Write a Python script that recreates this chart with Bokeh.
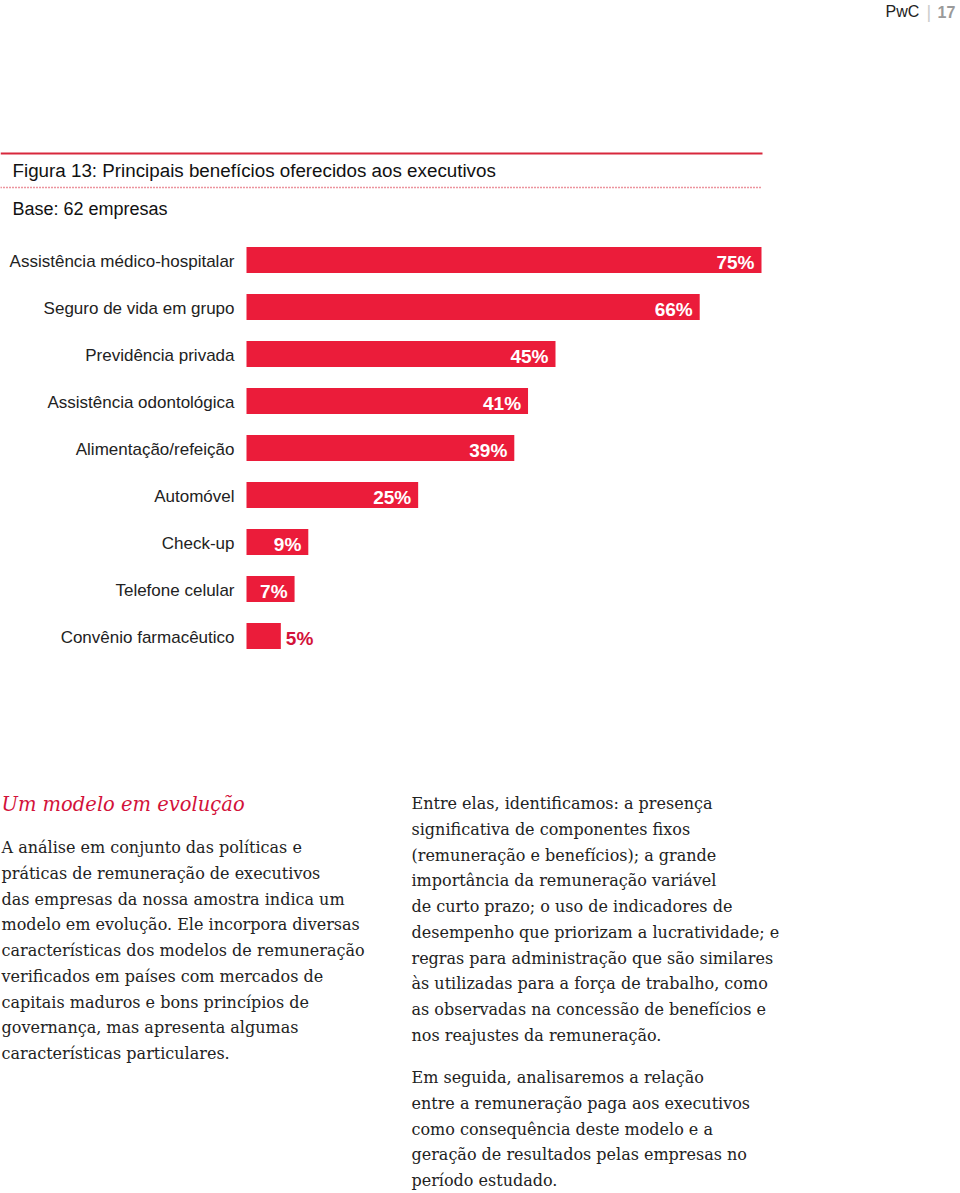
from bokeh.plotting import figure
from bokeh.models import Range1d, ColumnDataSource
from bokeh.core.properties import value
from bokeh.embed import file_html
from bokeh.resources import INLINE

# ---------------- data ----------------
categories = ["Assistência médico-hospitalar", "Seguro de vida em grupo", "Previdência privada",
              "Assistência odontológica", "Alimentação/refeição", "Automóvel", "Check-up",
              "Telefone celular", "Convênio farmacêutico"]
values = [75, 66, 45, 41, 39, 25, 9, 7, 5]
labels = [f"{v}%" for v in values]

title = "Figura 13: Principais benefícios oferecidos aos executivos"
subtitle = "Base: 62 empresas"
heading = "Um modelo em evolução"
left_lines = ["A análise em conjunto das políticas e",
              "práticas de remuneração de executivos",
              "das empresas da nossa amostra indica um",
              "modelo em evolução. Ele incorpora diversas",
              "características dos modelos de remuneração",
              "verificados em países com mercados de",
              "capitais maduros e bons princípios de",
              "governança, mas apresenta algumas",
              "características particulares."]
right_lines1 = ["Entre elas, identificamos: a presença",
                "significativa de componentes fixos",
                "(remuneração e benefícios); a grande",
                "importância da remuneração variável",
                "de curto prazo; o uso de indicadores de",
                "desempenho que priorizam a lucratividade; e",
                "regras para administração que são similares",
                "às utilizadas para a força de trabalho, como",
                "as observadas na concessão de benefícios e",
                "nos reajustes da remuneração."]
right_lines2 = ["Em seguida, analisaremos a relação",
                "entre a remuneração paga aos executivos",
                "como consequência deste modelo e a",
                "geração de resultados pelas empresas no",
                "período estudado."]

RED = "#eb1c3a"
DARKRED = "#d3123a"
SANS = "Liberation Sans"
SERIF = "DejaVu Serif"
W, H = 960, 1193

# value axis: 0 at pixel 246, 75 at pixel 761
LEFT = 246
PX_PER_UNIT = 515 / 75

p = figure(width=W, height=H,
           x_range=Range1d(-LEFT / PX_PER_UNIT, (W - LEFT) / PX_PER_UNIT),
           y_range=Range1d(H, 0),
           output_backend="svg", toolbar_location=None,
           x_axis_location=None, y_axis_location=None,
           min_border=0, outline_line_color=None)
p.extra_x_ranges = {"px": Range1d(0, W)}
p.grid.visible = False
p.background_fill_color = "white"
p.border_fill_color = "white"

def txt(x, y, t, font=SANS, size="16px", color="#222222", style="normal", align="left"):
    p.text(x=x, y=y, text=t, x_range_name="px", text_font=value(font), text_font_size=size,
           text_color=color, text_font_style=style, text_align=align, text_baseline="middle")

# ---------------- header / title ----------------
txt([885], [11], ["PwC"], size="16px", color="#222222")
txt([926], [11], ["|"], size="18px", color="#cccccc")
txt([937], [11], ["17"], size="16px", color="#9a9a9a", style="bold")
p.segment(x0=[0], y0=[153], x1=[762], y1=[153], x_range_name="px",
          line_color="#d8283c", line_width=2)
txt([12], [170], [title], size="18.8px", color="#111111")
p.segment(x0=[0], y0=[187], x1=[762], y1=[187], x_range_name="px",
          line_color="#d8283c", line_width=1.5, line_dash="1 2")
txt([12], [208], [subtitle], size="18px", color="#111111")

# ---------------- bar chart ----------------
ROW = 47
FIRST = 259.5
ys = [FIRST + i * ROW for i in range(len(categories))]
src = ColumnDataSource(dict(y=ys, val=values, lab=labels, cat=categories))
p.hbar(y="y", left=0, right="val", height=26, source=src, fill_color=RED, line_color=None)

# category labels (right-aligned, left of the bars)
txt([LEFT - 12] * len(categories), [y + 1 for y in ys], categories, size="17px",
    color="#222222", align="right")

inside = [i for i, v in enumerate(values) if v > 6]
outside = [i for i, v in enumerate(values) if v <= 6]
src_in = ColumnDataSource(dict(y=[ys[i] for i in inside], val=[values[i] for i in inside],
                               lab=[labels[i] for i in inside]))
src_out = ColumnDataSource(dict(y=[ys[i] for i in outside], val=[values[i] for i in outside],
                                lab=[labels[i] for i in outside]))
p.text(x="val", y="y", text="lab", source=src_in, text_align="right",
       text_baseline="middle", x_offset=-7, y_offset=2, text_color="white",
       text_font=value(SANS), text_font_style="bold", text_font_size="19px")
p.text(x="val", y="y", text="lab", source=src_out, text_align="left",
       text_baseline="middle", x_offset=5, y_offset=2, text_color=DARKRED,
       text_font=value(SANS), text_font_style="bold", text_font_size="19px")

# ---------------- body text ----------------
LH = 25.75
txt([1], [804], [heading], font=SERIF, size="19.5px", color=DARKRED, style="italic")
txt([1] * len(left_lines), [847 + i * LH for i in range(len(left_lines))], left_lines,
    font=SERIF, size="16px")
txt([411] * len(right_lines1), [803 + i * LH for i in range(len(right_lines1))], right_lines1,
    font=SERIF, size="16px")
txt([411] * len(right_lines2), [1077 + i * LH for i in range(len(right_lines2))], right_lines2,
    font=SERIF, size="16px")

open("out.html", "w").write(file_html(p, INLINE))
